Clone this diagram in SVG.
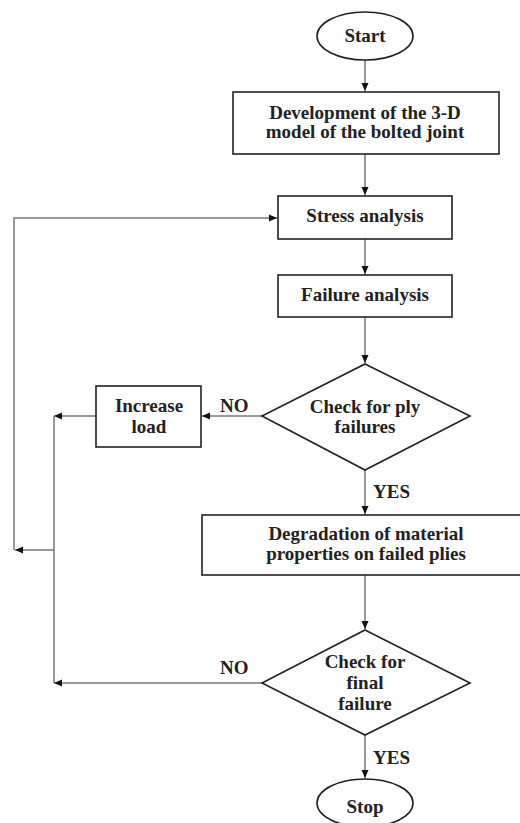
<svg xmlns="http://www.w3.org/2000/svg" width="520" height="823" viewBox="0 0 520 823">
<style>
.nd{fill:#fff;stroke:#222;stroke-width:1.6}
.t{font-family:"Liberation Serif","Times New Roman",serif;font-weight:bold;font-size:19px;fill:#222;text-anchor:middle}
.lb{font-family:"Liberation Serif","Times New Roman",serif;font-weight:bold;font-size:19px;fill:#222}
.c{fill:none;stroke:#777;stroke-width:1.5}
</style>
<defs>
<marker id="ah" markerUnits="userSpaceOnUse" markerWidth="9" markerHeight="8" refX="8" refY="4" orient="auto">
<path d="M0,0.5 L8,4 L0,7.5 z" fill="#111"/>
</marker>
</defs>
<rect width="520" height="823" fill="#fff"/>
<g id="connectors">
<line class="c" x1="365" y1="60" x2="365" y2="91" marker-end="url(#ah)"/>
<line class="c" x1="365" y1="154" x2="365" y2="195" marker-end="url(#ah)"/>
<line class="c" x1="365" y1="239" x2="365" y2="274" marker-end="url(#ah)"/>
<line class="c" x1="365" y1="317" x2="365" y2="363" marker-end="url(#ah)"/>
<line class="c" x1="262" y1="416" x2="202" y2="416" marker-end="url(#ah)"/>
<line class="c" x1="96" y1="416" x2="54" y2="416" marker-end="url(#ah)"/>
<line class="c" x1="365" y1="470" x2="365" y2="514" marker-end="url(#ah)"/>
<line class="c" x1="365" y1="575" x2="365" y2="629" marker-end="url(#ah)"/>
<line class="c" x1="262" y1="683" x2="54" y2="683" marker-end="url(#ah)"/>
<line class="c" x1="54" y1="416" x2="54" y2="683"/>
<line class="c" x1="54" y1="550" x2="15" y2="550" marker-end="url(#ah)"/>
<polyline class="c" points="14,550 14,218 277,218" marker-end="url(#ah)"/>
<line class="c" x1="365" y1="735" x2="365" y2="778" marker-end="url(#ah)"/>
<text class="lb" x="220" y="412">NO</text>
<text class="lb" x="373" y="498">YES</text>
<text class="lb" x="220" y="674">NO</text>
<text class="lb" x="373" y="764">YES</text>
</g>
<g id="start">
<ellipse class="nd" cx="365" cy="36" rx="48" ry="24"/>
<text class="t" x="365" y="42">Start</text>
</g>
<g id="development">
<rect class="nd" x="233" y="92" width="266" height="62"/>
<text class="t" x="365" y="119">Development of the 3-D</text>
<text class="t" x="365" y="138">model of the bolted joint</text>
</g>
<g id="stress">
<rect class="nd" x="278" y="196" width="174" height="43"/>
<text class="t" x="365" y="222">Stress analysis</text>
</g>
<g id="failure">
<rect class="nd" x="278" y="275" width="174" height="42"/>
<text class="t" x="365" y="301">Failure analysis</text>
</g>
<g id="check-ply">
<polygon class="nd" points="365,364 470,416 365,470 262,416"/>
<text class="t" x="365" y="413">Check for ply</text>
<text class="t" x="365" y="433">failures</text>
</g>
<g id="increase-load">
<rect class="nd" x="96" y="386" width="105" height="61"/>
<text class="t" x="149" y="412">Increase</text>
<text class="t" x="149" y="433">load</text>
</g>
<g id="degradation">
<rect class="nd" x="202" y="515" width="330" height="60"/>
<text class="t" x="366" y="540">Degradation of material</text>
<text class="t" x="366" y="560">properties on failed plies</text>
</g>
<g id="check-final">
<polygon class="nd" points="365,630 470,683 365,735 262,683"/>
<text class="t" x="365" y="668">Check for</text>
<text class="t" x="365" y="689">final</text>
<text class="t" x="365" y="710">failure</text>
</g>
<g id="stop">
<ellipse class="nd" cx="365" cy="803" rx="48" ry="24"/>
<text class="t" x="365" y="813">Stop</text>
</g>
</svg>
